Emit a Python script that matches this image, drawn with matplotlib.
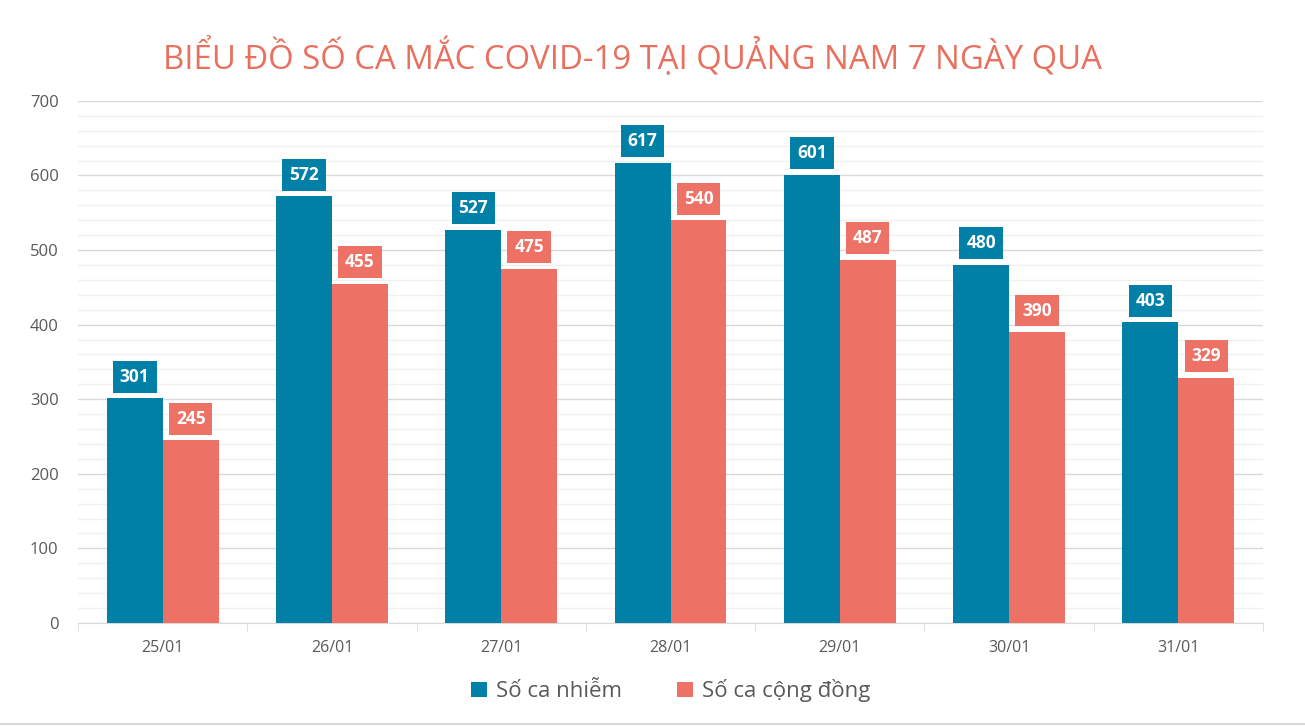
import matplotlib.pyplot as plt
import numpy as np

# data
days = ["25/01", "26/01", "27/01", "28/01", "29/01", "30/01", "31/01"]
nhiem = [301, 572, 527, 617, 601, 480, 403]
cong_dong = [245, 455, 475, 540, 487, 390, 329]

blue = "#0080A7"
red = "#EE7166"
grey_text = "#595959"

plt.rcParams['font.family'] = ['Open Sans', 'DejaVu Sans']

fig = plt.figure(figsize=(13.05, 7.26), dpi=100)
ax = fig.add_axes([0.0598, 0.142, 0.9080, 0.719])

x = np.arange(len(days))
w = 0.33
b1 = ax.bar(x - w / 2, nhiem, w, color=blue, label="Số ca nhiễm", zorder=3)
b2 = ax.bar(x + w / 2, cong_dong, w, color=red, label="Số ca cộng đồng", zorder=3)

# value labels in coloured boxes
for bars, col in [(b1, blue), (b2, red)]:
    for r in bars:
        h = r.get_height()
        ax.annotate(str(h), (r.get_x() + r.get_width() / 2, h), xytext=(0, 15.5),
                    textcoords="offset points", ha="center", va="center",
                    color="white", fontsize=12.5, fontweight="bold", zorder=4,
                    bbox=dict(boxstyle="square,pad=0.4", facecolor=col, edgecolor="none"))

ax.set_xlim(-0.5, len(days) - 0.5)
ax.set_ylim(0, 700)
ax.set_yticks(range(0, 701, 100))
ax.set_yticks(range(0, 701, 20), minor=True)
ax.grid(axis="y", which="major", color="#d9d9d9", lw=1, zorder=0)
ax.grid(axis="y", which="minor", color="#f0f0f0", lw=1, zorder=0)
ax.tick_params(axis="y", which="both", length=0, labelsize=12, labelcolor=grey_text, pad=14)

ax.set_xticks(x)
ax.set_xticklabels(days)
ax.set_xticks(np.arange(-0.5, len(days), 1), minor=True)
ax.tick_params(axis="x", which="major", length=0, labelsize=11.5, labelcolor=grey_text, pad=12)
ax.tick_params(axis="x", which="minor", length=6, color="#d9d9d9")

for s in ["top", "right", "left"]:
    ax.spines[s].set_visible(False)
ax.spines["bottom"].set_color("#d9d9d9")

fig.text(0.485, 0.922, "BIỂU ĐỒ SỐ CA MẮC COVID-19 TẠI QUẢNG NAM 7 NGÀY QUA",
         ha="center", va="center", fontsize=23.7, color="#E8705F")

ax.legend(loc="center", bbox_to_anchor=(0.5, -0.13), ncol=2, frameon=False,
          fontsize=16, labelcolor=grey_text, handlelength=0.7, handleheight=0.7,
          columnspacing=2.5, handletextpad=0.4)

fig.add_artist(plt.Line2D([0, 1], [0.003, 0.003], color="#d9d9d9", lw=1.5))

fig.savefig("out.png", dpi=100)
